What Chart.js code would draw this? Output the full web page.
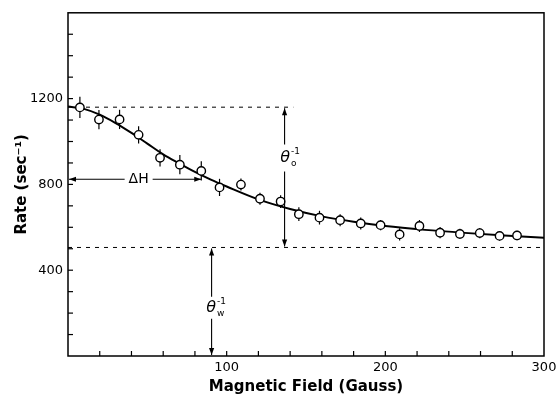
<!DOCTYPE html>
<html lang="en">
<head>
<meta charset="UTF-8">
<title>Rate vs Magnetic Field</title>
<style>
  html, body { margin: 0; padding: 0; background: #fff; }
</style>
</head>
<body>
<canvas id="myChart" width="556" height="396"></canvas>

<script src="https://cdn.jsdelivr.net/npm/chart.js"></script>
<script>
// measured points: field (Gauss), rate (sec^-1), error bar half height
const field = [7.5, 19.5, 32.5, 44.5, 58, 70.5, 84, 95.5, 109, 121, 134, 145.5, 158.5, 171.5, 184.5, 197, 209, 221.5, 234.5, 247, 259.5, 272, 283];
const rate = [1159, 1102, 1103, 1031, 924, 892, 863, 786, 799, 733, 720, 661, 645, 633, 618, 610, 567, 606, 575, 569, 573, 560, 562];
const rateErr = [50, 45, 45, 40, 40, 45, 45, 40, 28, 28, 30, 32, 32, 28, 28, 24, 28, 28, 26, 24, 24, 22, 22];

// the drawn fit curve
const curveField = [0, 10, 20, 30, 40, 50, 60, 70, 80, 90, 100, 120, 140, 160, 180, 200, 225, 250, 275, 300];
const curveRate = [1163, 1152, 1125, 1086, 1040, 990, 940, 898, 858, 822, 790, 730, 685, 651, 626, 606, 588, 574, 562, 551];

// tick labels
const xTicks = [100, 200, 300];
const yTicks = [400, 800, 1200];
const xMinorStep = 20;
const yMinorStep = 100;

// annotation values
const levelTop = 1160;      // theta_o^-1 top level
const levelBottom = 506;    // theta_w^-1 level
const levelTopEnd = 142;    // field where the upper dashed line stops
const deltaH = 84;          // width of ΔH arrow (Gauss)
const deltaHRate = 824;     // rate at which ΔH arrow is drawn
const thetaOField = 136.5;
const thetaWField = 90.5;

const ctx = document.getElementById('myChart');

function arrow(c, x1, y1, x2, y2) {
    // line from (x1,y1) to (x2,y2) with a head at (x2,y2)
    c.beginPath();
    c.moveTo(x1, y1);
    c.lineTo(x2, y2);
    c.stroke();
    const a = Math.atan2(y2 - y1, x2 - x1);
    const len = 7, w = 2.6;
    c.beginPath();
    c.moveTo(x2, y2);
    c.lineTo(x2 - len * Math.cos(a) + w * Math.sin(a), y2 - len * Math.sin(a) - w * Math.cos(a));
    c.lineTo(x2 - len * Math.cos(a) - w * Math.sin(a), y2 - len * Math.sin(a) + w * Math.cos(a));
    c.closePath();
    c.fill();
}

function theta(c, cx, cy, sub) {
    c.font = 'italic 16px "DejaVu Sans"';
    const w = c.measureText('\u03B8').width;
    const x0 = cx - (w + 9) / 2;
    c.textBaseline = 'middle';
    c.textAlign = 'left';
    c.fillText('\u03B8', x0, cy);
    c.font = '9px "DejaVu Sans"';
    c.fillText('-1', x0 + w + 1, cy - 6);
    c.fillText(sub, x0 + w + 1, cy + 6);
}

const annotate = {
    id: 'annotate',
    beforeDatasetsDraw(chart) {
        const c = chart.ctx;
        const x = chart.scales.x, y = chart.scales.y;
        c.save();
        c.strokeStyle = '#000';
        c.lineWidth = 1.2;
        for (let i = 0; i < field.length; i++) {
            const px = x.getPixelForValue(field[i]);
            c.beginPath();
            c.moveTo(px, y.getPixelForValue(rate[i] - rateErr[i]));
            c.lineTo(px, y.getPixelForValue(rate[i] + rateErr[i]));
            c.stroke();
        }
        c.restore();
    },
    afterDatasetsDraw(chart) {
        const c = chart.ctx;
        const x = chart.scales.x, y = chart.scales.y;
        const a = chart.chartArea;
        c.save();
        c.strokeStyle = '#000';
        c.fillStyle = '#000';

        // frame
        c.lineWidth = 1.5;
        c.strokeRect(a.left, a.top, a.right - a.left, a.bottom - a.top);

        // inward ticks
        c.lineWidth = 1.2;
        for (let v = xMinorStep; v < x.max; v += xMinorStep) {
            const px = x.getPixelForValue(v);
            c.beginPath();
            c.moveTo(px, a.bottom);
            c.lineTo(px, a.bottom - 5);
            c.stroke();
        }
        for (let v = yMinorStep; v < y.max; v += yMinorStep) {
            const py = y.getPixelForValue(v);
            c.beginPath();
            c.moveTo(a.left, py);
            c.lineTo(a.left + 5, py);
            c.stroke();
        }

        c.lineWidth = 1.1;
        // ΔH arrow
        const yH = y.getPixelForValue(deltaHRate);
        const xHc = x.getPixelForValue(deltaH * 0.53);
        arrow(c, xHc - 14, yH, x.getPixelForValue(0) + 1, yH);
        arrow(c, xHc + 14, yH, x.getPixelForValue(deltaH), yH);
        c.font = '14px "DejaVu Sans"';
        c.textAlign = 'center';
        c.textBaseline = 'middle';
        c.fillText('\u0394H', xHc, yH);

        // theta_o^-1 arrow
        const xo = x.getPixelForValue(thetaOField);
        const yTop = y.getPixelForValue(levelTop);
        const yBot = y.getPixelForValue(levelBottom);
        const yoText = y.getPixelForValue(925);
        arrow(c, xo, yoText - 13, xo, yTop + 1);
        arrow(c, xo, yoText + 14, xo, yBot - 1);
        theta(c, xo + 5, yoText, 'o');

        // theta_w^-1 arrow
        const xw = x.getPixelForValue(thetaWField);
        const ywText = y.getPixelForValue(225);
        arrow(c, xw, ywText - 11, xw, yBot + 1);
        arrow(c, xw, ywText + 11, xw, a.bottom - 1);
        theta(c, xw + 4, ywText, 'w');

        c.restore();
    }
};

const tickFont = { family: '"DejaVu Sans"', size: 13 };
const titleFont = { family: '"DejaVu Sans"', size: 15, weight: 'bold' };

new Chart(ctx, {
    type: 'scatter',
    data: {
        datasets: [
            {
                label: 'data',
                data: field.map((f, i) => ({ x: f, y: rate[i] })),
                pointRadius: 4.2,
                pointBackgroundColor: '#fff',
                pointBorderColor: '#000',
                pointBorderWidth: 1.4,
                showLine: false
            },
            {
                label: 'fit',
                data: curveField.map((f, i) => ({ x: f, y: curveRate[i] })),
                showLine: true,
                borderColor: '#000',
                borderWidth: 2,
                pointRadius: 0,
                cubicInterpolationMode: 'monotone'
            },
            {
                label: 'top level',
                data: [{ x: 0, y: levelTop }, { x: levelTopEnd, y: levelTop }],
                showLine: true,
                borderColor: '#000',
                borderWidth: 1,
                borderDash: [4, 5],
                pointRadius: 0
            },
            {
                label: 'bottom level',
                data: [{ x: 0, y: levelBottom }, { x: 300, y: levelBottom }],
                showLine: true,
                borderColor: '#000',
                borderWidth: 1,
                borderDash: [4, 5],
                pointRadius: 0
            }
        ]
    },
    options: {
        responsive: false,
        animation: false,
        layout: { padding: { top: 9, right: 12, left: 0, bottom: 0 } },
        plugins: {
            legend: { display: false },
            tooltip: { enabled: false }
        },
        scales: {
            x: {
                type: 'linear',
                min: 0,
                max: 300,
                afterBuildTicks: s => { s.ticks = xTicks.map(v => ({ value: v })); },
                afterFit: s => { s.height = 40; s.paddingRight = 0; },
                ticks: { font: tickFont, color: '#000', padding: 4, maxRotation: 0, autoSkip: false, callback: v => String(v) },
                grid: { display: false, drawTicks: false },
                border: { display: false },
                title: { display: true, text: 'Magnetic Field (Gauss)', font: titleFont, color: '#000', padding: 0 }
            },
            y: {
                min: 0,
                max: 1600,
                afterBuildTicks: s => { s.ticks = yTicks.map(v => ({ value: v })); },
                afterFit: s => { s.width = 68; },
                ticks: { font: tickFont, color: '#000', padding: 5, autoSkip: false, callback: v => String(v) },
                grid: { display: false, drawTicks: false },
                border: { display: false },
                title: { display: true, text: 'Rate (sec\u207B\u00B9)', font: titleFont, color: '#000', padding: { top: 13, bottom: 0 } }
            }
        }
    },
    plugins: [annotate]
});
</script>
</body>
</html>
